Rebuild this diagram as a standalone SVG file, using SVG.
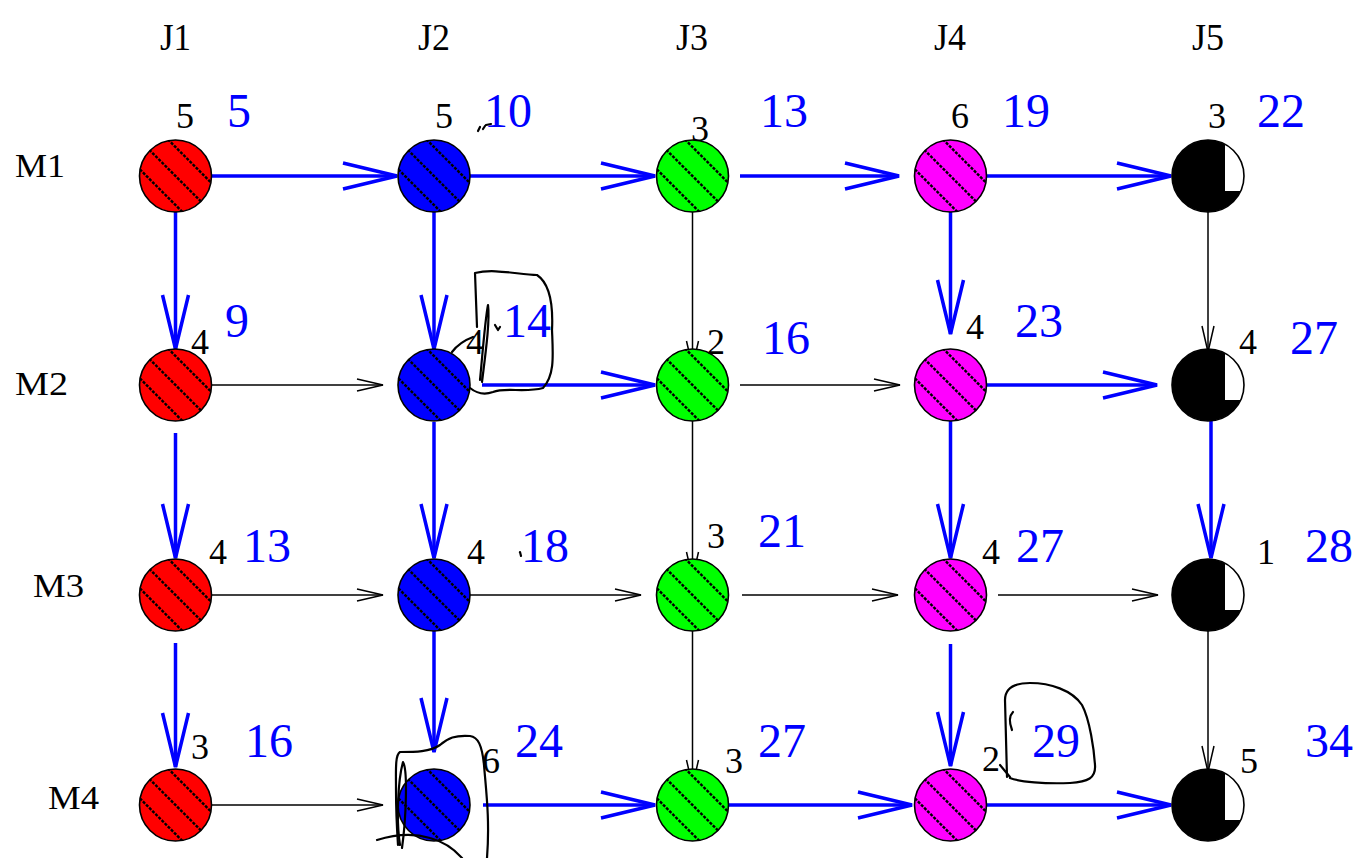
<svg xmlns="http://www.w3.org/2000/svg" xmlns:xlink="http://www.w3.org/1999/xlink" width="1362" height="858" viewBox="0 0 1362 858">
<style>
.lbl{font-family:"Liberation Serif","Times New Roman",serif;font-size:34px;fill:#000}
.jl{font-family:"Liberation Serif","Times New Roman",serif;font-size:37px;fill:#000}
.d{font-family:"Liberation Serif","Times New Roman",serif;font-size:36px;fill:#000}
.c{font-family:"Liberation Serif","Times New Roman",serif;font-size:48px;fill:#0000ff}
.ol{fill:none;stroke:#000;stroke-width:1.6}
.hl{stroke:#000;stroke-width:2.4;stroke-dasharray:3 1.4}
.eb{fill:none;stroke:#0000ff;stroke-width:3.5}
.ek{fill:none;stroke:#000;stroke-width:1.5}
.hw{fill:none;stroke:#000;stroke-width:2.2;stroke-linecap:round;stroke-linejoin:round}
</style>
<defs>
<clipPath id="cc"><circle cx="0" cy="0" r="36"/></clipPath>
<g id="hatch" clip-path="url(#cc)">
<line class="hl" x1="-45" y1="-74" x2="45" y2="16"/>
<line class="hl" x1="-45" y1="-45" x2="45" y2="45"/>
<line class="hl" x1="-45" y1="-16" x2="45" y2="74"/>
</g>
<marker id="ab" markerUnits="userSpaceOnUse" markerWidth="64" markerHeight="36" viewBox="-60 -18 64 36" refX="0" refY="0" orient="auto" overflow="visible">
<path d="M-54,-13 L0,0 L-54,13" fill="none" stroke="#0000ff" stroke-width="3.5"/>
</marker>
<marker id="ak" markerUnits="userSpaceOnUse" markerWidth="32" markerHeight="16" viewBox="-30 -8 32 16" refX="0" refY="0" orient="auto" overflow="visible">
<path d="M-26,-6 L0,0 L-26,6" fill="none" stroke="#000" stroke-width="1.5"/>
</marker>
<g id="nR"><circle r="36" fill="#ff0000"/><use xlink:href="#hatch"/><circle r="36" class="ol"/></g>
<g id="nB"><circle r="36" fill="#0000ff"/><use xlink:href="#hatch"/><circle r="36" class="ol"/></g>
<g id="nG"><circle r="36" fill="#00ff00"/><use xlink:href="#hatch"/><circle r="36" class="ol"/></g>
<g id="nM"><circle r="36" fill="#ff00ff"/><use xlink:href="#hatch"/><circle r="36" class="ol"/></g>
<g id="nK"><circle r="36" fill="#000"/><path d="M17,-31.7 A36,36 0 0 1 32.7,15 L17,15 Z" fill="#fff"/><circle r="36" class="ol"/></g>
</defs>
<rect width="1362" height="858" fill="#fff"/>

<g id="labels">
<text class="jl" x="160" y="50" textLength="31" lengthAdjust="spacingAndGlyphs">J1</text>
<text class="jl" x="418" y="50" textLength="32" lengthAdjust="spacingAndGlyphs">J2</text>
<text class="jl" x="676" y="50" textLength="32" lengthAdjust="spacingAndGlyphs">J3</text>
<text class="jl" x="934" y="50" textLength="32" lengthAdjust="spacingAndGlyphs">J4</text>
<text class="jl" x="1192" y="50" textLength="32" lengthAdjust="spacingAndGlyphs">J5</text>
<text class="lbl" x="15" y="177" textLength="50" lengthAdjust="spacingAndGlyphs">M1</text>
<text class="lbl" x="15" y="395" textLength="53" lengthAdjust="spacingAndGlyphs">M2</text>
<text class="lbl" x="33" y="597" textLength="51" lengthAdjust="spacingAndGlyphs">M3</text>
<text class="lbl" x="48" y="809" textLength="51" lengthAdjust="spacingAndGlyphs">M4</text>
</g>

<g id="connectors">
<line class="eb" x1="212" y1="176" x2="397" y2="176" marker-end="url(#ab)"/>
<line class="eb" x1="470" y1="176" x2="655" y2="176" marker-end="url(#ab)"/>
<line class="eb" x1="740" y1="176" x2="899" y2="176" marker-end="url(#ab)"/>
<line class="eb" x1="987" y1="176" x2="1171" y2="176" marker-end="url(#ab)"/>
<line class="ek" x1="212" y1="385" x2="383" y2="385" marker-end="url(#ak)"/>
<line class="eb" x1="482" y1="385" x2="655" y2="385" marker-end="url(#ab)"/>
<line class="ek" x1="740" y1="385" x2="900" y2="385" marker-end="url(#ak)"/>
<line class="eb" x1="984" y1="385" x2="1157" y2="385" marker-end="url(#ab)"/>
<line class="ek" x1="212" y1="595" x2="383" y2="595" marker-end="url(#ak)"/>
<line class="ek" x1="470" y1="595" x2="641" y2="595" marker-end="url(#ak)"/>
<line class="ek" x1="742" y1="595" x2="898" y2="595" marker-end="url(#ak)"/>
<line class="ek" x1="998" y1="595" x2="1158" y2="595" marker-end="url(#ak)"/>
<line class="ek" x1="212" y1="805" x2="383" y2="805" marker-end="url(#ak)"/>
<line class="eb" x1="483" y1="805" x2="655" y2="805" marker-end="url(#ab)"/>
<line class="eb" x1="725" y1="805" x2="912" y2="805" marker-end="url(#ab)"/>
<line class="eb" x1="987" y1="805" x2="1171" y2="805" marker-end="url(#ab)"/>
<line class="eb" x1="175.5" y1="212" x2="175.5" y2="349" marker-end="url(#ab)"/>
<line class="eb" x1="175.5" y1="433" x2="175.5" y2="558" marker-end="url(#ab)"/>
<line class="eb" x1="175.5" y1="643" x2="175.5" y2="767" marker-end="url(#ab)"/>
<line class="eb" x1="434" y1="212" x2="434" y2="349" marker-end="url(#ab)"/>
<line class="eb" x1="434" y1="422" x2="434" y2="558" marker-end="url(#ab)"/>
<line class="eb" x1="434" y1="631" x2="434" y2="752" marker-end="url(#ab)"/>
<line class="ek" x1="692.5" y1="212" x2="692.5" y2="367" marker-end="url(#ak)"/>
<line class="ek" x1="692.5" y1="421" x2="692.5" y2="578" marker-end="url(#ak)"/>
<line class="ek" x1="692.5" y1="631" x2="692.5" y2="786" marker-end="url(#ak)"/>
<line class="eb" x1="950.5" y1="212" x2="950.5" y2="334" marker-end="url(#ab)"/>
<line class="eb" x1="950.5" y1="421" x2="950.5" y2="558" marker-end="url(#ab)"/>
<line class="eb" x1="950.5" y1="644" x2="950.5" y2="766" marker-end="url(#ab)"/>
<line class="ek" x1="1208" y1="212" x2="1208" y2="352" marker-end="url(#ak)"/>
<line class="eb" x1="1211" y1="421" x2="1211" y2="558" marker-end="url(#ab)"/>
<line class="ek" x1="1208" y1="631" x2="1208" y2="772" marker-end="url(#ak)"/>
</g>

<g id="n-M1-J1"><use xlink:href="#nR" x="175.5" y="176"/><text class="d" x="176" y="128">5</text><text class="c" x="227" y="127">5</text></g>
<g id="n-M1-J2"><use xlink:href="#nB" x="434" y="176"/><text class="d" x="435" y="128">5</text><text class="c" x="484" y="127">10</text></g>
<g id="n-M1-J3"><use xlink:href="#nG" x="692.5" y="176"/><text class="d" x="691" y="141">3</text><text class="c" x="760" y="127">13</text></g>
<g id="n-M1-J4"><use xlink:href="#nM" x="950.5" y="176"/><text class="d" x="951" y="128">6</text><text class="c" x="1002" y="127">19</text></g>
<g id="n-M1-J5"><use xlink:href="#nK" x="1208" y="176"/><text class="d" x="1208" y="128">3</text><text class="c" x="1257" y="127">22</text></g>

<g id="n-M2-J1"><use xlink:href="#nR" x="175.5" y="385"/><text class="d" x="191" y="354">4</text><text class="c" x="225" y="337">9</text></g>
<g id="n-M2-J2"><use xlink:href="#nB" x="434" y="385"/><text class="d" x="466" y="354">4</text><text class="c" x="503" y="337">14</text></g>
<g id="n-M2-J3"><use xlink:href="#nG" x="692.5" y="385"/><text class="d" x="707" y="354">2</text><text class="c" x="762" y="354">16</text></g>
<g id="n-M2-J4"><use xlink:href="#nM" x="950.5" y="385"/><text class="d" x="966" y="339">4</text><text class="c" x="1015" y="337">23</text></g>
<g id="n-M2-J5"><use xlink:href="#nK" x="1208" y="385"/><text class="d" x="1239" y="354">4</text><text class="c" x="1290" y="354">27</text></g>

<g id="n-M3-J1"><use xlink:href="#nR" x="175.5" y="595"/><text class="d" x="209" y="564">4</text><text class="c" x="243" y="562">13</text></g>
<g id="n-M3-J2"><use xlink:href="#nB" x="434" y="595"/><text class="d" x="467" y="564">4</text><text class="c" x="521" y="562">18</text></g>
<g id="n-M3-J3"><use xlink:href="#nG" x="692.5" y="595"/><text class="d" x="707" y="548">3</text><text class="c" x="758" y="547">21</text></g>
<g id="n-M3-J4"><use xlink:href="#nM" x="950.5" y="595"/><text class="d" x="982" y="564">4</text><text class="c" x="1016" y="562">27</text></g>
<g id="n-M3-J5"><use xlink:href="#nK" x="1208" y="595"/><text class="d" x="1257" y="564">1</text><text class="c" x="1305" y="562">28</text></g>

<g id="n-M4-J1"><use xlink:href="#nR" x="175.5" y="805"/><text class="d" x="191" y="759">3</text><text class="c" x="245" y="757">16</text></g>
<g id="n-M4-J2"><use xlink:href="#nB" x="434" y="805"/><text class="d" x="482" y="773">6</text><text class="c" x="515" y="757">24</text></g>
<g id="n-M4-J3"><use xlink:href="#nG" x="692.5" y="805"/><text class="d" x="725" y="773">3</text><text class="c" x="758" y="757">27</text></g>
<g id="n-M4-J4"><use xlink:href="#nM" x="950.5" y="805"/><text class="d" x="982" y="771">2</text><text class="c" x="1032" y="757">29</text></g>
<g id="n-M4-J5"><use xlink:href="#nK" x="1208" y="805"/><text class="d" x="1240" y="773">5</text><text class="c" x="1305" y="757">34</text></g>

<g id="handwriting">
<path class="hw" d="M478 131 l2 -4 M483 129 l2 -3 M486 125 l5 -1"/>
<path class="hw" d="M452 352 C458 344, 465 340, 473 337"/>
<path class="hw" d="M477 327 L475 273 C495 268, 520 275, 537 275 C552 285, 553 310, 552 330 C553 355, 555 375, 543 388 C525 393, 505 387, 493 392 C482 396, 475 392, 470 388"/>
<path class="hw" d="M480 380 C482 360, 485 320, 488 305 C490 320, 486 350, 482 382"/>
<path class="hw" d="M495 325 l3 5 l2 -3"/>
<path class="hw" d="M520 552 l1 4"/>
<path class="hw" d="M487 858 C490 820, 486 790, 484 765 C482 745, 478 737, 470 736 C455 735, 448 738, 440 745 C430 752, 415 752, 400 752 C395 755, 396 770, 396 790 C396 810, 397 830, 398 845"/>
<path class="hw" d="M377 840 C390 836, 410 832, 430 838 C445 842, 455 850, 462 858"/>
<path class="hw" d="M400 845 C396 820, 398 780, 403 762 C408 770, 406 820, 402 848"/>
<path class="hw" d="M1007 777 L1005 700 C1005 688, 1015 683, 1030 683 C1050 683, 1072 690, 1082 705 C1090 720, 1094 750, 1095 765 C1096 778, 1088 782, 1070 783 C1045 784, 1020 782, 1010 778"/>
<path class="hw" d="M1013 712 C1009 716, 1009 722, 1012 730"/>
<path class="hw" d="M1000 765 L1010 777"/>
</g>
</svg>
